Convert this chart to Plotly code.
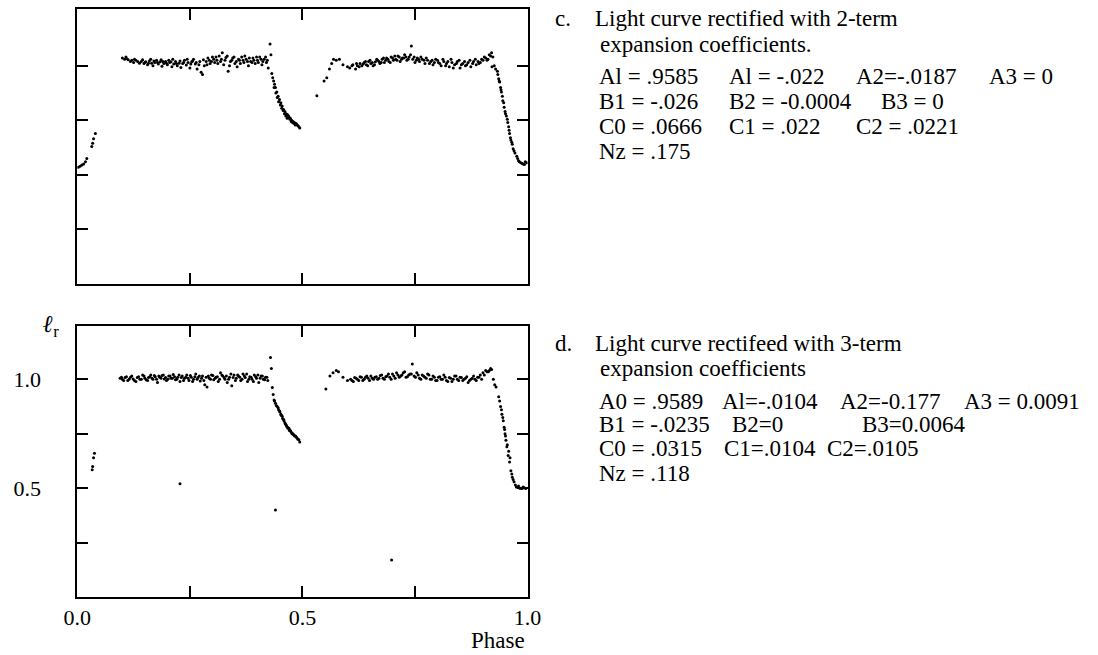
import plotly.graph_objects as go

# ---------------- data ----------------
# Panel c (top): light curve rectified with 2-term expansion coefficients
phase_c = [
    0.002, 0.006, 0.010, 0.014, 0.018, 0.021, 0.032, 0.034, 0.036, 0.040,
    0.100, 0.105, 0.110, 0.113, 0.118, 0.125, 0.130, 0.138, 0.142, 0.148,
    0.152, 0.156, 0.160, 0.165, 0.168, 0.172, 0.176, 0.180, 0.184, 0.188,
    0.192, 0.196, 0.200, 0.205, 0.210, 0.214, 0.218, 0.222, 0.226, 0.230,
    0.234, 0.238, 0.242, 0.246, 0.250, 0.254, 0.258, 0.262, 0.266, 0.270,
    0.275, 0.278, 0.282, 0.286, 0.290, 0.295, 0.300, 0.305, 0.310, 0.315,
    0.320, 0.325, 0.330, 0.335, 0.340, 0.345, 0.350, 0.355, 0.360, 0.365,
    0.370, 0.375, 0.380, 0.385, 0.390, 0.395, 0.400, 0.405, 0.410, 0.415,
    0.420, 0.424,
    0.428, 0.430, 0.432, 0.436, 0.438, 0.440, 0.443, 0.446, 0.449, 0.452,
    0.455, 0.458, 0.461, 0.464, 0.467, 0.470, 0.473, 0.476, 0.479, 0.482,
    0.486, 0.490, 0.494,
    0.532, 0.548, 0.554, 0.560, 0.565, 0.569, 0.575, 0.582, 0.590,
    0.600, 0.605, 0.612, 0.618, 0.622, 0.628, 0.632, 0.637, 0.642, 0.647,
    0.652, 0.657, 0.662, 0.667, 0.672, 0.677, 0.682, 0.687, 0.692, 0.697,
    0.702, 0.707, 0.712, 0.717, 0.722, 0.727, 0.732, 0.737, 0.742, 0.745,
    0.750, 0.755, 0.760, 0.766, 0.772, 0.778, 0.785, 0.790, 0.796, 0.802,
    0.808, 0.814, 0.820, 0.826, 0.832, 0.838, 0.844, 0.850, 0.856, 0.862,
    0.868, 0.874, 0.880, 0.886, 0.892, 0.898, 0.904, 0.910, 0.915, 0.920,
    0.923, 0.926, 0.929,
    0.934, 0.936, 0.938, 0.940, 0.942, 0.945, 0.948, 0.950, 0.953, 0.956,
    0.958, 0.960, 0.962, 0.965, 0.968, 0.972, 0.976, 0.980, 0.985, 0.990,
    0.995,
]
flux_c = [
    0.535, 0.540, 0.545, 0.550, 0.560, 0.575, 0.630, 0.645, 0.665, 0.690,
    1.035, 1.030, 1.032, 1.028, 1.020, 1.015, 1.025, 1.012, 1.020, 1.010,
    1.018, 1.005, 1.022, 1.012, 1.000, 1.015, 1.025, 1.008, 1.018, 0.998,
    1.010, 1.020, 1.005, 1.015, 0.995, 1.008, 1.020, 1.000, 1.012, 0.992,
    1.010, 1.025, 1.003, 1.015, 0.990, 1.018, 1.030, 1.008, 0.985, 1.005,
    0.970, 0.960, 1.000, 1.020, 1.035, 1.010, 1.040, 1.015, 1.025, 1.045,
    1.030, 1.005, 1.038, 0.975, 1.020, 1.035, 1.010, 0.995, 1.025, 1.040,
    1.015, 1.030, 1.000, 1.020, 1.035, 1.010, 1.025, 1.040, 1.005, 1.030,
    1.015, 0.990,
    1.100, 1.050, 0.965, 0.930, 0.915, 0.900, 0.880, 0.860, 0.845, 0.830,
    0.815, 0.800, 0.790, 0.780, 0.775, 0.765, 0.760, 0.750, 0.745, 0.740,
    0.735, 0.725, 0.715,
    0.862, 0.930, 0.945, 0.985, 1.010, 1.030, 1.025, 1.030, 1.005,
    0.995, 0.990, 1.005, 0.985, 1.000, 1.010, 1.000, 1.015, 1.005, 1.020,
    1.010, 1.000, 1.018, 1.025, 1.010, 1.030, 1.015, 1.035, 1.020, 1.040,
    1.025, 1.030, 1.045, 1.020, 1.035, 1.050, 1.025, 1.040, 1.090, 1.030,
    1.015, 1.035, 1.020, 1.030, 1.010, 1.025, 1.020, 1.005, 1.030, 1.015,
    1.000, 1.020, 1.010, 0.995, 1.015, 1.005, 1.020, 0.990, 1.010, 1.000,
    1.015, 0.995, 1.020, 1.005, 1.010, 1.030, 1.040, 1.025, 1.050, 1.060,
    1.040, 1.000, 0.985,
    0.960, 0.940, 0.925, 0.900, 0.880, 0.840, 0.810, 0.790, 0.770, 0.740,
    0.720, 0.690, 0.670, 0.650, 0.620, 0.600, 0.585, 0.565, 0.555, 0.550,
    0.560,
]
# additional (overlapping) observations in panel c
phase_c_extra = [
    0.108, 0.121, 0.127, 0.134, 0.145, 0.150, 0.158, 0.163, 0.170, 0.178,
    0.186, 0.190, 0.198, 0.203, 0.208, 0.212, 0.220, 0.228, 0.236, 0.244,
    0.252, 0.256, 0.264, 0.272, 0.280, 0.288, 0.293, 0.298, 0.303, 0.308,
    0.312, 0.318, 0.322, 0.328, 0.333, 0.338, 0.343, 0.348, 0.353, 0.358,
    0.362, 0.368, 0.372, 0.378, 0.382, 0.388, 0.392, 0.398, 0.402, 0.408,
    0.412, 0.418, 0.422,
    0.434, 0.437, 0.441, 0.444, 0.447, 0.451, 0.454, 0.457, 0.460, 0.463,
    0.466, 0.469, 0.472, 0.475, 0.478, 0.481, 0.484, 0.488, 0.492,
    0.610, 0.620, 0.626, 0.635, 0.640, 0.645, 0.650, 0.655, 0.660, 0.665,
    0.670, 0.675, 0.680, 0.685, 0.690, 0.695, 0.700, 0.705, 0.710, 0.715,
    0.720, 0.725, 0.730, 0.735, 0.740, 0.748, 0.753, 0.758, 0.763, 0.770,
    0.775, 0.782, 0.788, 0.793, 0.800, 0.805, 0.812, 0.818, 0.823, 0.830,
    0.835, 0.842, 0.848, 0.853, 0.860, 0.865, 0.872, 0.878, 0.884, 0.890,
    0.895, 0.901, 0.907, 0.912, 0.918, 0.921,
    0.933, 0.937, 0.941, 0.944, 0.947, 0.951, 0.955, 0.959, 0.963, 0.966,
    0.970, 0.978, 0.982, 0.988, 0.993, 0.998,
]
flux_c_extra = [
    1.040, 1.025, 1.030, 1.020, 1.028, 1.015, 1.012, 1.030, 1.022, 1.015,
    1.028, 1.020, 1.012, 1.025, 1.018, 1.030, 1.010, 1.022, 1.015, 1.030,
    1.008, 1.022, 1.015, 1.020, 1.028, 1.005, 1.025, 1.020, 1.030, 1.040,
    1.010, 1.020, 1.060, 1.025, 1.045, 1.000, 1.025, 1.040, 1.020, 1.030,
    1.010, 1.025, 1.045, 1.020, 1.035, 1.015, 1.025, 1.040, 1.015, 1.030,
    1.020, 1.040, 1.025,
    0.945, 0.900, 0.875, 0.855, 0.835, 0.820, 0.805, 0.795, 0.780, 0.770,
    0.760, 0.770, 0.755, 0.745, 0.740, 0.735, 0.728, 0.730, 0.720,
    1.000, 1.010, 0.995, 1.008, 1.020, 1.000, 1.025, 1.015, 1.005, 1.030,
    1.020, 1.015, 1.035, 1.025, 1.030, 1.015, 1.035, 1.045, 1.025, 1.040,
    1.030, 1.035, 1.040, 1.030, 1.050, 1.040, 1.025, 1.030, 1.040, 1.025,
    1.035, 1.010, 1.025, 1.015, 1.025, 1.010, 1.030, 1.000, 1.020, 1.030,
    0.990, 1.010, 1.025, 1.005, 1.020, 1.005, 1.025, 1.010, 1.030, 1.020,
    1.015, 1.025, 1.035, 1.030, 1.045, 0.995,
    0.975, 0.930, 0.890, 0.860, 0.830, 0.780, 0.755, 0.705, 0.660, 0.640,
    0.610, 0.575, 0.560, 0.552, 0.548, 0.555,
]

# Panel d (bottom): light curve rectified with 3-term expansion coefficients
phase_d = [
    0.033, 0.034, 0.036, 0.038,
    0.095, 0.100, 0.106, 0.112, 0.118, 0.124, 0.130, 0.136, 0.142, 0.148,
    0.153, 0.158, 0.163, 0.168, 0.173, 0.178, 0.183, 0.188, 0.193, 0.198,
    0.203, 0.208, 0.213, 0.218, 0.223, 0.228, 0.233, 0.238, 0.243, 0.248,
    0.253, 0.258, 0.263, 0.268, 0.273, 0.278, 0.283, 0.288, 0.293, 0.298,
    0.303, 0.308, 0.313, 0.318, 0.323, 0.328, 0.333, 0.338, 0.343, 0.348,
    0.353, 0.358, 0.363, 0.368, 0.373, 0.378, 0.383, 0.388, 0.393, 0.398,
    0.403, 0.408, 0.413, 0.418, 0.423,
    0.429, 0.431, 0.433, 0.437, 0.440, 0.444, 0.447, 0.450, 0.453, 0.456,
    0.459, 0.462, 0.465, 0.468, 0.471, 0.474, 0.477, 0.480, 0.483, 0.486,
    0.490, 0.494,
    0.552, 0.561, 0.568, 0.575, 0.580, 0.590, 0.600,
    0.607, 0.613, 0.619, 0.625, 0.631, 0.637, 0.643, 0.649, 0.655, 0.661,
    0.667, 0.673, 0.679, 0.685, 0.691, 0.697, 0.703, 0.709, 0.715, 0.721,
    0.727, 0.733, 0.739, 0.744, 0.748, 0.754, 0.760, 0.766, 0.772, 0.778,
    0.784, 0.790, 0.796, 0.802, 0.808, 0.814, 0.820, 0.826, 0.832, 0.838,
    0.844, 0.850, 0.856, 0.862, 0.868, 0.874, 0.880, 0.886, 0.892, 0.898,
    0.904, 0.910, 0.915, 0.920, 0.924, 0.927, 0.930,
    0.936, 0.940, 0.943, 0.946, 0.948, 0.950, 0.952, 0.954, 0.957, 0.960,
    0.963, 0.966, 0.970, 0.975, 0.980, 0.985, 0.990, 0.996,
    0.228, 0.440, 0.698,
]
flux_d = [
    0.585, 0.600, 0.640, 0.660,
    1.005, 1.000, 1.008, 0.995, 1.010, 1.002, 0.990, 1.012, 1.000, 1.015,
    0.998, 1.008, 1.020, 1.000, 1.012, 0.985, 1.010, 1.018, 1.002, 0.995,
    1.015, 1.005, 1.022, 0.998, 1.010, 0.990, 1.015, 1.005, 1.020, 0.995,
    1.010, 1.000, 1.025, 1.008, 0.992, 1.015, 0.975, 0.965, 1.005, 1.020,
    0.998, 1.010, 0.990, 1.030, 1.015, 1.000, 0.985, 1.010, 0.970, 1.020,
    1.005, 1.015, 0.995, 1.025, 1.008, 0.990, 1.012, 1.000, 1.020, 1.005,
    0.985, 1.015, 1.000, 1.010, 0.995,
    1.100, 1.050, 0.963, 0.905, 0.890, 0.875, 0.860, 0.850, 0.835, 0.820,
    0.810, 0.795, 0.785, 0.775, 0.765, 0.760, 0.750, 0.745, 0.740, 0.735,
    0.725, 0.712,
    0.955, 1.015, 1.030, 1.040, 1.035, 1.010, 0.995,
    1.000, 0.990, 1.005, 0.995, 1.010, 1.000, 1.015, 0.995, 1.005, 1.010,
    1.000, 1.018, 1.005, 1.012, 1.025, 1.000, 1.015, 1.030, 1.010, 1.020,
    1.035, 1.012, 1.025, 1.070, 1.015, 1.030, 1.005, 1.020, 1.010, 1.025,
    1.000, 1.015, 0.995, 1.010, 1.000, 1.020, 0.995, 1.008, 0.990, 1.015,
    1.000, 1.010, 0.995, 1.005, 0.985, 1.000, 1.015, 0.995, 1.010, 1.000,
    1.020, 1.035, 1.040, 1.045, 1.000, 0.975, 0.965,
    0.920, 0.875, 0.840, 0.810, 0.780, 0.750, 0.720, 0.690, 0.650, 0.620,
    0.580, 0.550, 0.530, 0.505, 0.510, 0.500, 0.505, 0.498,
    0.520, 0.400, 0.170,
]
# additional (overlapping) observations in panel d
phase_d_extra = [
    0.098, 0.103, 0.109, 0.115, 0.121, 0.127, 0.133, 0.139, 0.145, 0.150,
    0.156, 0.161, 0.166, 0.171, 0.176, 0.181, 0.186, 0.191, 0.196, 0.201,
    0.206, 0.211, 0.216, 0.221, 0.226, 0.231, 0.236, 0.241, 0.246, 0.251,
    0.256, 0.261, 0.266, 0.271, 0.276, 0.281, 0.286, 0.291, 0.296, 0.301,
    0.306, 0.311, 0.316, 0.321, 0.326, 0.331, 0.336, 0.341, 0.346, 0.351,
    0.356, 0.361, 0.366, 0.371, 0.376, 0.381, 0.386, 0.391, 0.396, 0.401,
    0.406, 0.411, 0.416, 0.421,
    0.435, 0.438, 0.442, 0.446, 0.449, 0.452, 0.455, 0.458, 0.461, 0.464,
    0.467, 0.470, 0.473, 0.476, 0.479, 0.482, 0.485, 0.488, 0.492,
    0.610, 0.616, 0.622, 0.628, 0.634, 0.640, 0.646, 0.652, 0.658, 0.664,
    0.670, 0.676, 0.682, 0.688, 0.694, 0.700, 0.706, 0.712, 0.718, 0.724,
    0.730, 0.736, 0.742, 0.751, 0.757, 0.763, 0.769, 0.775, 0.781, 0.787,
    0.793, 0.799, 0.805, 0.811, 0.817, 0.823, 0.829, 0.835, 0.841, 0.847,
    0.853, 0.859, 0.865, 0.871, 0.877, 0.883, 0.889, 0.895, 0.901, 0.907,
    0.913, 0.918,
    0.938, 0.942, 0.945, 0.949, 0.951, 0.955, 0.958, 0.961, 0.965, 0.968,
    0.973, 0.978, 0.983, 0.988, 0.993,
]
flux_d_extra = [
    1.010, 0.995, 1.012, 1.000, 1.015, 0.995, 1.008, 1.000, 1.020, 1.005,
    0.995, 1.012, 1.005, 1.018, 1.000, 1.015, 1.005, 1.020, 1.008, 1.000,
    1.015, 1.005, 1.012, 1.000, 1.020, 1.008, 0.995, 1.010, 1.005, 1.018,
    0.990, 1.012, 1.000, 1.015, 1.005, 0.995, 1.010, 1.015, 1.000, 1.018,
    1.005, 1.012, 1.000, 1.020, 1.008, 1.015, 1.000, 1.025, 1.008, 0.995,
    1.020, 1.010, 1.000, 1.015, 1.025, 1.000, 1.010, 0.990, 1.012, 1.020,
    1.005, 1.015, 0.998, 1.010,
    0.930, 0.900, 0.880, 0.870, 0.855, 0.840, 0.830, 0.815, 0.800, 0.790,
    0.780, 0.775, 0.765, 0.755, 0.750, 0.742, 0.738, 0.730, 0.722,
    0.995, 1.008, 1.000, 1.012, 0.995, 1.010, 1.005, 1.015, 1.000, 1.012,
    1.005, 1.020, 1.000, 1.015, 1.010, 1.025, 1.005, 1.020, 1.015, 1.030,
    1.010, 1.020, 1.025, 1.010, 1.020, 1.000, 1.015, 1.005, 1.020, 1.000,
    1.010, 0.995, 1.012, 1.000, 1.010, 0.990, 1.005, 1.000, 1.015, 0.995,
    1.008, 1.000, 1.012, 0.995, 1.005, 1.000, 1.010, 1.020, 1.030, 1.040,
    1.035, 1.050,
    0.900, 0.860, 0.825, 0.770, 0.740, 0.700, 0.670, 0.640, 0.565, 0.540,
    0.515, 0.505, 0.500, 0.498, 0.502,
]

x_tickvals = [0.0, 0.5, 1.0]
x_ticktext = ["0.0", "0.5", "1.0"]
x_minor = [0.25, 0.75]
y_tickvals = [0.5, 1.0]
y_ticktext = ["0.5", "1.0"]
y_minor = [0.25, 0.75]

text_c = [
    ("c.", 553, 19),
    ("Light curve rectified with 2-term", 594, 19),
    ("expansion coefficients.", 599, 44),
    ("Al = .9585", 598, 76), ("Al = -.022", 732, 76),
    ("A2=-.0187", 862, 76), ("A3 = 0", 998, 76),
    ("B1 = -.026", 598, 101), ("B2 = -0.0004", 732, 101), ("B3 = 0", 888, 101),
    ("C0 = .0666", 598, 126), ("C1 = .022", 732, 126), ("C2 = .0221", 862, 126),
    ("Nz = .175", 598, 151),
]
text_d = [
    ("d.", 553, 343),
    ("Light curve rectifeed with 3-term", 594, 343),
    ("expansion coefficients", 599, 368),
    ("A0 = .9589", 598, 401), ("Al=-.0104", 724, 401),
    ("A2=-0.177", 846, 401), ("A3 = 0.0091", 973, 401),
    ("B1 = -.0235", 598, 424), ("B2=0", 735, 424), ("B3=0.0064", 868, 424),
    ("C0 = .0315", 598, 448), ("C1=.0104", 727, 448), ("C2=.0105", 832, 448),
    ("Nz = .118", 598, 473),
]

# ---------------- figure ----------------
W, H = 1098, 655
FONT = "Liberation Serif, Times New Roman, serif"
TXT = 23


def px_x(x):
    return x / W


def px_y(y):
    return 1 - y / H


fig = go.Figure()
fig.add_trace(go.Scatter(x=phase_c + phase_c_extra, y=flux_c + flux_c_extra,
                         mode="markers",
                         marker=dict(color="black", size=3),
                         xaxis="x", yaxis="y", showlegend=False,
                         hoverinfo="skip"))
fig.add_trace(go.Scatter(x=phase_d + phase_d_extra, y=flux_d + flux_d_extra,
                         mode="markers",
                         marker=dict(color="black", size=3),
                         xaxis="x2", yaxis="y2", showlegend=False,
                         hoverinfo="skip"))

x_dom = [px_x(65), px_x(527)]
minor_common = dict(ticks="inside", ticklen=11, tickwidth=1.5,
                    tickcolor="black", showgrid=False)
axis_common = dict(showline=True, linecolor="black", linewidth=2,
                   mirror="allticks", ticks="inside", ticklen=11,
                   tickwidth=1.5, tickcolor="black", showgrid=False,
                   zeroline=False,
                   tickfont=dict(family=FONT, size=22, color="black"))

fig.update_layout(
    width=W, height=H,
    margin=dict(l=0, r=0, t=0, b=0),
    paper_bgcolor="white", plot_bgcolor="white",
    font=dict(family=FONT, color="black"),
    xaxis=dict(domain=x_dom, range=[0, 1], tickvals=x_tickvals,
               showticklabels=False, anchor="y",
               minor=dict(tickvals=x_minor, **minor_common), **axis_common),
    yaxis=dict(domain=[px_y(284), px_y(9)], range=[0, 1.26],
               tickvals=y_tickvals, showticklabels=False, anchor="x",
               minor=dict(tickvals=y_minor, **minor_common), **axis_common),
    xaxis2=dict(domain=x_dom, range=[0, 1], tickvals=x_tickvals,
                ticktext=x_ticktext, anchor="y2", ticklabelstandoff=0,
                minor=dict(tickvals=x_minor, **minor_common), **axis_common),
    yaxis2=dict(domain=[px_y(597), px_y(326)], range=[0.0, 1.245],
                tickvals=y_tickvals, ticktext=y_ticktext, anchor="x2",
                ticklabelstandoff=30,
                minor=dict(tickvals=y_minor, **minor_common), **axis_common),
)

annotations = []
for txt, x, y in text_c + text_d:
    annotations.append(dict(text=txt, x=px_x(x), y=px_y(y), xref="paper",
                            yref="paper", xanchor="left", yanchor="middle",
                            showarrow=False,
                            font=dict(family=FONT, size=TXT, color="black")))
annotations.append(dict(text="Phase", x=px_x(497), y=0, xref="paper",
                        yref="paper", xanchor="center", yanchor="bottom",
                        showarrow=False,
                        font=dict(family=FONT, size=23, color="black")))
annotations.append(dict(text="<b><i>ℓ</i></b><sub>r</sub>", x=px_x(38),
                        y=px_y(326), xref="paper", yref="paper",
                        xanchor="center", yanchor="middle", showarrow=False,
                        font=dict(family=FONT, size=24, color="black")))
fig.update_layout(annotations=annotations)

fig.write_html("out.html")
